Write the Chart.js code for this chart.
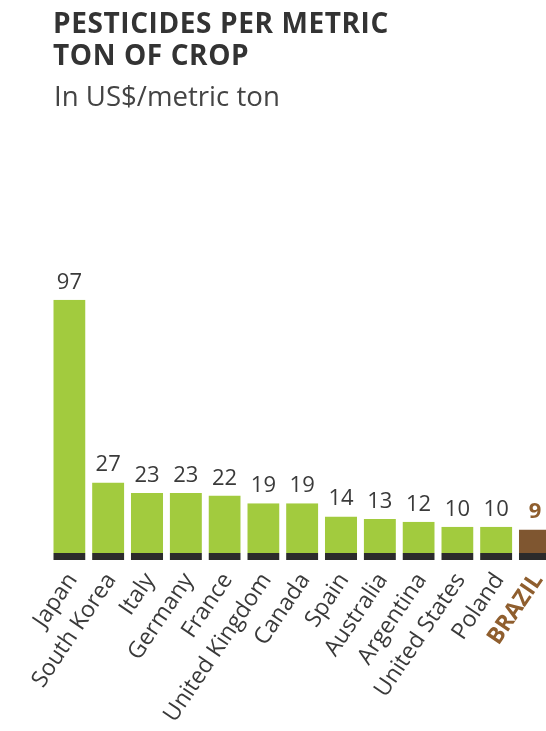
<!DOCTYPE html>
<html>
<head>
<meta charset="utf-8">
<script src="https://cdn.jsdelivr.net/npm/chart.js@4.4.1/dist/chart.umd.min.js"></script>
<style>
  html, body { margin: 0; padding: 0; background: #fff; overflow: hidden; width: 546px; height: 731px; }
  #title { position: absolute; left: 53px; top: 6px; font-family: "Open Sans", sans-serif; font-weight: bold; font-size: 28px; line-height: 32px; letter-spacing: 0.6px; color: #333; white-space: nowrap; }
  #sub { position: absolute; left: 54px; top: 80px; font-family: "Open Sans", sans-serif; font-size: 27.6px; line-height: 30px; color: #444; white-space: nowrap; }
  #chart { position: absolute; left: 0; top: 0; }
</style>
</head>
<body>
<canvas id="chart" width="566" height="731"></canvas>
<div id="title">PESTICIDES PER METRIC<br>TON OF CROP</div>
<div id="sub">In US$/metric ton</div>
<script>
const countries = ['Japan', 'South Korea', 'Italy', 'Germany', 'France', 'United Kingdom', 'Canada', 'Spain', 'Australia', 'Argentina', 'United States', 'Poland', 'BRAZIL'];
const values = [97, 27, 23, 23, 22, 19, 19, 14, 13, 12, 10, 10, 9];

const green = '#a2cb3e';
const brown = '#7f5630';
const brownText = '#8f5e2e';
const isBrazil = i => i === countries.length - 1;

// numbers above the bars
const valueLabels = {
  id: 'valueLabels',
  afterDatasetsDraw(chart) {
    const ctx = chart.ctx;
    const meta = chart.getDatasetMeta(0);
    ctx.save();
    ctx.textAlign = 'center';
    ctx.textBaseline = 'alphabetic';
    meta.data.forEach((bar, i) => {
      ctx.font = (isBrazil(i) ? 'bold ' : '') + '22px "Open Sans", sans-serif';
      ctx.fillStyle = isBrazil(i) ? brownText : '#3a3a3a';
      ctx.fillText(values[i], bar.x, bar.y - 11);
    });
    ctx.restore();
  }
};

new Chart(document.getElementById('chart'), {
  type: 'bar',
  data: {
    labels: countries,
    datasets: [{
      data: values,
      base: -2.7,
      backgroundColor: values.map((v, i) => isBrazil(i) ? brown : green),
      borderColor: '#2b2b2b',
      borderWidth: { top: 0, left: 0, right: 0, bottom: 7 },
      borderSkipped: false,
      barPercentage: 0.83,
      categoryPercentage: 1
    }]
  },
  options: {
    responsive: false,
    animation: false,
    layout: { padding: { left: 50, right: 3, top: 292, bottom: 0 } },
    plugins: { legend: { display: false }, tooltip: { enabled: false } },
    scales: {
      y: { display: false, min: -2.7, max: 100 },
      x: {
        grid: { display: false, drawTicks: false },
        border: { display: false },
        afterFit(scale) { scale.height = 171; },
        ticks: {
          autoSkip: false,
          minRotation: 56,
          maxRotation: 56,
          padding: 8,
          labelOffset: 3,
          color: ctx => isBrazil(ctx.index) ? brownText : '#3a3a3a',
          font: ctx => ({ family: '"Open Sans", sans-serif', size: 23, weight: isBrazil(ctx.index) ? 'bold' : 'normal' })
        }
      }
    }
  },
  plugins: [valueLabels]
});
</script>
</body>
</html>
